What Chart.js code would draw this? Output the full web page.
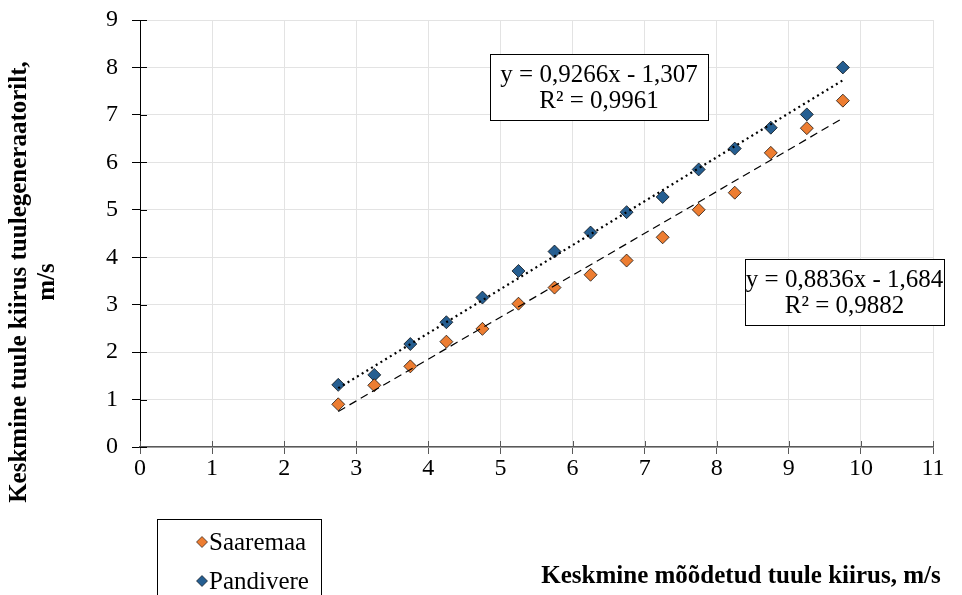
<!DOCTYPE html>
<html>
<head>
<meta charset="utf-8">
<script src="https://cdn.jsdelivr.net/npm/chart.js@4"></script>
<style>
  html, body { margin: 0; padding: 0; background: #fff; }
  #wrap { width: 962px; height: 595px; position: relative; }
</style>
</head>
<body>
<div id="wrap"><canvas id="chart-scatter" width="962" height="595"></canvas></div>
<script>
// measured wind speed (x) and turbine wind speed per site (y)
const xValues = [2.75, 3.25, 3.75, 4.25, 4.75, 5.25, 5.75, 6.25, 6.75, 7.25, 7.75, 8.25, 8.75, 9.25, 9.75];
const saaremaa = [0.9, 1.3, 1.7, 2.22, 2.49, 3.02, 3.36, 3.63, 3.93, 4.42, 5.0, 5.36, 6.2, 6.72, 7.3];
const pandivere = [1.31, 1.52, 2.17, 2.63, 3.15, 3.71, 4.12, 4.52, 4.95, 5.27, 5.85, 6.29, 6.73, 7.01, 8.0];

// trendline end points
const trendSaaremaa = [[2.75, 0.75], [9.75, 6.93]];
const trendPandivere = [[2.75, 1.24], [9.75, 7.73]];

const seriesNames = ['Saaremaa', 'Pandivere'];
const eqSaaremaa = ['y = 0,8836x - 1,684', 'R² = 0,9882'];
const eqPandivere = ['y = 0,9266x - 1,307', 'R² = 0,9961'];

const ORANGE = '#ED7D31';
const BLUE = '#255E91';
const FONT = "'Liberation Serif', 'Times New Roman', Times, serif";

const toPoints = (ys) => xValues.map((x, i) => ({ x: x, y: ys[i] }));
const toLine = (pts) => pts.map(p => ({ x: p[0], y: p[1] }));

// extras: inner tick marks, axis titles, equation boxes, legend
const extras = {
  id: 'extras',
  afterDraw(chart) {
    const c = chart.ctx;
    const xs = chart.scales.x, ys = chart.scales.y;
    const a = chart.chartArea;
    c.save();

    // ticks crossing into the plot
    c.lineWidth = 1;
    c.strokeStyle = '#595959';
    xs.ticks.forEach(t => {
      const px = Math.round(xs.getPixelForValue(t.value)) + 0.5;
      c.beginPath(); c.moveTo(px, a.bottom - 6); c.lineTo(px, a.bottom); c.stroke();
    });
    c.strokeStyle = '#000';
    ys.ticks.forEach(t => {
      const py = Math.round(ys.getPixelForValue(t.value)) + 0.5;
      c.beginPath(); c.moveTo(a.left, py); c.lineTo(a.left + 7, py); c.stroke();
    });

    // equation boxes
    function eqBox(lines, x1, y1, x2, y2) {
      c.fillStyle = '#fff';
      c.fillRect(x1, y1, x2 - x1, y2 - y1);
      c.strokeStyle = '#000';
      c.lineWidth = 1;
      c.strokeRect(x1 + 0.5, y1 + 0.5, x2 - x1, y2 - y1);
      c.fillStyle = '#000';
      c.font = '25px ' + FONT;
      c.textAlign = 'center';
      c.textBaseline = 'middle';
      const cx = (x1 + x2) / 2;
      c.fillText(lines[0], cx, y1 + 21);
      c.fillText(lines[1], cx, y1 + 47);
    }
    eqBox(eqPandivere, 490, 54, 708, 120);
    eqBox(eqSaaremaa, 745, 259, 944, 325);

    // axis titles
    c.fillStyle = '#000';
    c.font = 'bold 25px ' + FONT;
    c.textAlign = 'center';
    c.textBaseline = 'middle';
    c.fillText('Keskmine mõõdetud tuule kiirus, m/s', 741, 577);
    c.save();
    c.translate(20, 282);
    c.rotate(-Math.PI / 2);
    c.fillText('Keskmine tuule kiirus tuulegeneraatorilt,', 0, 0);
    c.fillText('m/s', 0, 28);
    c.restore();

    // legend
    c.strokeStyle = '#000';
    c.lineWidth = 1;
    c.strokeRect(157.5, 519.5, 164, 90);
    const colors = [ORANGE, BLUE];
    seriesNames.forEach((name, i) => {
      const cy = 542 + i * 39;
      c.beginPath();
      c.moveTo(202, cy - 5.5); c.lineTo(207.5, cy); c.lineTo(202, cy + 5.5); c.lineTo(196.5, cy);
      c.closePath();
      c.fillStyle = colors[i];
      c.fill();
      c.strokeStyle = '#000';
      c.lineWidth = 0.6;
      c.stroke();
      c.fillStyle = '#000';
      c.font = '25px ' + FONT;
      c.textAlign = 'left';
      c.fillText(name, 209, cy + 1);
    });
    c.restore();
  }
};

document.addEventListener("DOMContentLoaded", function () {
  const ctx = document.getElementById('chart-scatter');

  new Chart(ctx, {
    type: 'scatter',
    data: {
      datasets: [
        {
          label: 'Pandivere trend',
          data: toLine(trendPandivere),
          showLine: true,
          borderColor: '#000',
          borderWidth: 2.2,
          borderDash: [2, 3.5],
          pointRadius: 0,
          fill: false,
          order: 0
        },
        {
          label: 'Saaremaa trend',
          data: toLine(trendSaaremaa),
          showLine: true,
          borderColor: '#000',
          borderWidth: 1.2,
          borderDash: [8, 5],
          pointRadius: 0,
          fill: false,
          order: 0
        },
        {
          label: seriesNames[0],
          data: toPoints(saaremaa),
          pointStyle: 'rectRot',
          pointRadius: 6.5,
          backgroundColor: ORANGE,
          borderColor: '#000',
          borderWidth: 0.7,
          order: 1
        },
        {
          label: seriesNames[1],
          data: toPoints(pandivere),
          pointStyle: 'rectRot',
          pointRadius: 6.5,
          backgroundColor: BLUE,
          borderColor: '#000',
          borderWidth: 0.7,
          order: 1
        }
      ]
    },
    options: {
      responsive: false,
      animation: false,
      layout: { padding: { left: 0, top: 20, right: 29, bottom: 0 } },
      plugins: {
        legend: { display: false },
        tooltip: { enabled: false }
      },
      scales: {
        x: {
          type: 'linear',
          min: 0,
          max: 11,
          ticks: { stepSize: 1, color: '#000', font: { family: FONT, size: 24 }, padding: 0, maxRotation: 0 },
          grid: { color: '#e3e3e3', tickColor: '#595959', tickLength: 7 },
          border: { color: '#595959', width: 1.5 },
          afterFit(s) { s.height = 148; s.paddingLeft = 0; s.paddingRight = 0; }
        },
        y: {
          type: 'linear',
          min: 0,
          max: 9,
          ticks: { stepSize: 1, color: '#000', font: { family: FONT, size: 24 }, padding: 14 },
          grid: { color: '#e3e3e3', tickColor: '#000', tickLength: 8 },
          border: { color: '#000', width: 1 },
          afterFit(s) { s.width = 140; s.paddingTop = 0; s.paddingBottom = 0; }
        }
      }
    },
    plugins: [extras]
  });
});
</script>
</body>
</html>
